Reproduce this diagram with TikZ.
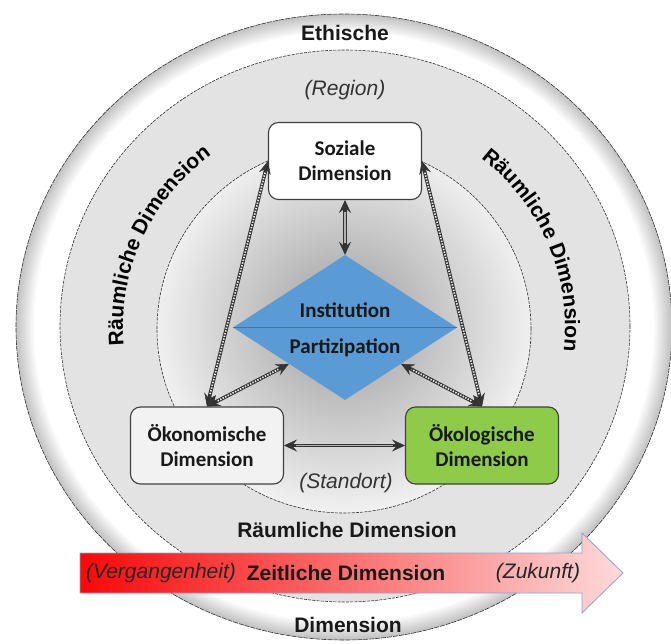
\documentclass[tikz,border=0pt]{standalone}
\usepackage{fontspec}
\setmainfont{Liberation Sans}
\newfontfamily\boxfont{Carlito}
\usetikzlibrary{shapes.geometric,arrows.meta,decorations.text,shadings}

\definecolor{diablue}{RGB}{91,155,213}
\definecolor{dialine}{RGB}{62,118,172}
\definecolor{ecogreen}{RGB}{141,203,72}
\definecolor{arrL}{RGB}{250,8,8}
\definecolor{arrR}{RGB}{253,218,218}
\definecolor{arrB}{RGB}{140,165,200}
\definecolor{txt}{RGB}{25,25,25}

\pgfdeclareradialshading{innerzone}{\pgfpoint{0bp}{1bp}}{color(0bp)=(black!40); color(9bp)=(black!27); color(25bp)=(black!6); color(50bp)=(black!6)}

\newcommand\rdfont{\bfseries\fontsize{21}{25}\selectfont}

\begin{document}
\begin{tikzpicture}[x=1pt,y=1pt,
  >={Stealth[length=13pt,width=12pt,inset=5pt,line width=0.4pt]},
  dimbox/.style={draw=black!75, line width=1.1pt, rounded corners=10pt, minimum width=153pt, minimum height=77pt, align=center, font=\boxfont\bfseries\fontsize{21}{25}\selectfont, text=txt, inner sep=2pt},
  dtext/.style={font=\boxfont\bfseries\fontsize{21}{25}\selectfont, text=txt, inner sep=0pt},
  ttl/.style={font=\bfseries\fontsize{21}{25}\selectfont, text=txt, inner sep=0pt},
  ital/.style={font=\itshape\fontsize{21}{25}\selectfont, text=black!80, inner sep=0pt},
  ringline/.style={draw=black!80, line width=0.6pt, dash pattern=on 3pt off 1.2pt},
  solidarrow/.style={<->, draw=black!80, line width=3.6pt, postaction={draw=black!30, line width=1.5pt, -, shorten <=12pt, shorten >=12pt}},
  hatcharrow/.style={<->, draw=black!80, line width=3.6pt, postaction={draw=black!8, line width=1.7pt, -, dash pattern=on 1.4pt off 1.4pt, shorten <=12pt, shorten >=12pt}}
]
\useasboundingbox (0,0) rectangle (671,-644);
\fill[white] (0,0) rectangle (671,-644);

% outer ring with inner shadow
\fill[white] (344,-327) ellipse[x radius=328, y radius=313];
\begin{scope}
  \clip (344,-327) ellipse[x radius=328, y radius=313];
  \foreach \w in {36,33,30,27,24,21,18,15,12,9,6,3} {
    \draw[black, opacity=0.018, line width=\w pt] (344,-327) ellipse[x radius=328, y radius=313];
  }
\end{scope}
\draw[ringline, dash pattern=on 5pt off 1pt] (344,-327) ellipse[x radius=328, y radius=313];
% middle band
\fill[black!11] (345,-326) ellipse[x radius=285, y radius=276];
\draw[ringline] (345,-326) ellipse[x radius=285, y radius=276];
% inner zone
\shade[shading=innerzone] (344,-329) ellipse[x radius=187, y radius=184];
\draw[ringline] (344,-329) ellipse[x radius=187, y radius=184];

% ring labels
\node[ttl] (eth) at (345,-33) {Ethische};
\node[ital] (reg) at (345,-90) {(Region)};
\path[decorate, decoration={text along path, text align=center, text={|\rdfont|Räumliche Dimension}}]
  (344,-327) ++(197:221 and 215) arc[start angle=197, end angle=115, x radius=221, y radius=215];
\path[decorate, decoration={text along path, text align=center, text={|\rdfont|Räumliche Dimension}}]
  (344,-327) ++(63:221 and 215) arc[start angle=63, end angle=-18, x radius=221, y radius=215];
\node[ttl] (rd3) at (347,-530) {Räumliche Dimension};
\node[ital] (sta) at (346,-483) {(Standort)};
\node[ttl] (dim) at (348,-625) {Dimension};

% diamond
\node[diamond, fill=diablue, minimum width=224pt, minimum height=145pt, inner sep=0pt, shape aspect=1.545] (dia) at (345,-327.5) {};
\draw[dialine, line width=0.8pt] (dia.west) -- (dia.east);
\node[dtext] (inst) at (345,-310) {Institution};
\node[dtext] (part) at (345,-348) {Partizipation};

% boxes
\node[dimbox, fill=white] (soz) at (345,-161) {Soziale\\Dimension};
\node[dimbox, fill=black!5] (oek) at (207,-445.5) {Ökonomische\\Dimension};
\node[dimbox, fill=ecogreen] (oko) at (482,-445.5) {Ökologische\\Dimension};

% connectors
\draw[solidarrow] (soz.south) -- (dia.north);
\draw[solidarrow] (oek.east) -- (oko.west);
\draw[hatcharrow] (soz.west) -- (oek.north);
\draw[hatcharrow] (soz.east) -- (oko.north);
\draw[hatcharrow] (oek.north) -- (dia.south west);
\draw[hatcharrow] (oko.north) -- (dia.south east);

% time arrow
\shade[left color=arrL, right color=arrR, draw=arrB, line width=0.8pt]
  (80,-553) -- (582,-553) -- (582,-533) -- (623,-573) -- (582,-613) -- (582,-593) -- (80,-593) -- cycle;
\node[ital, text=black!85] (verg) at (161,-573) {(Vergangenheit)};
\node[ttl] (zeit) at (346,-573) {Zeitliche Dimension};
\node[ital, text=black!85] (zuk) at (538,-573) {(Zukunft)};
\end{tikzpicture}
\end{document}
